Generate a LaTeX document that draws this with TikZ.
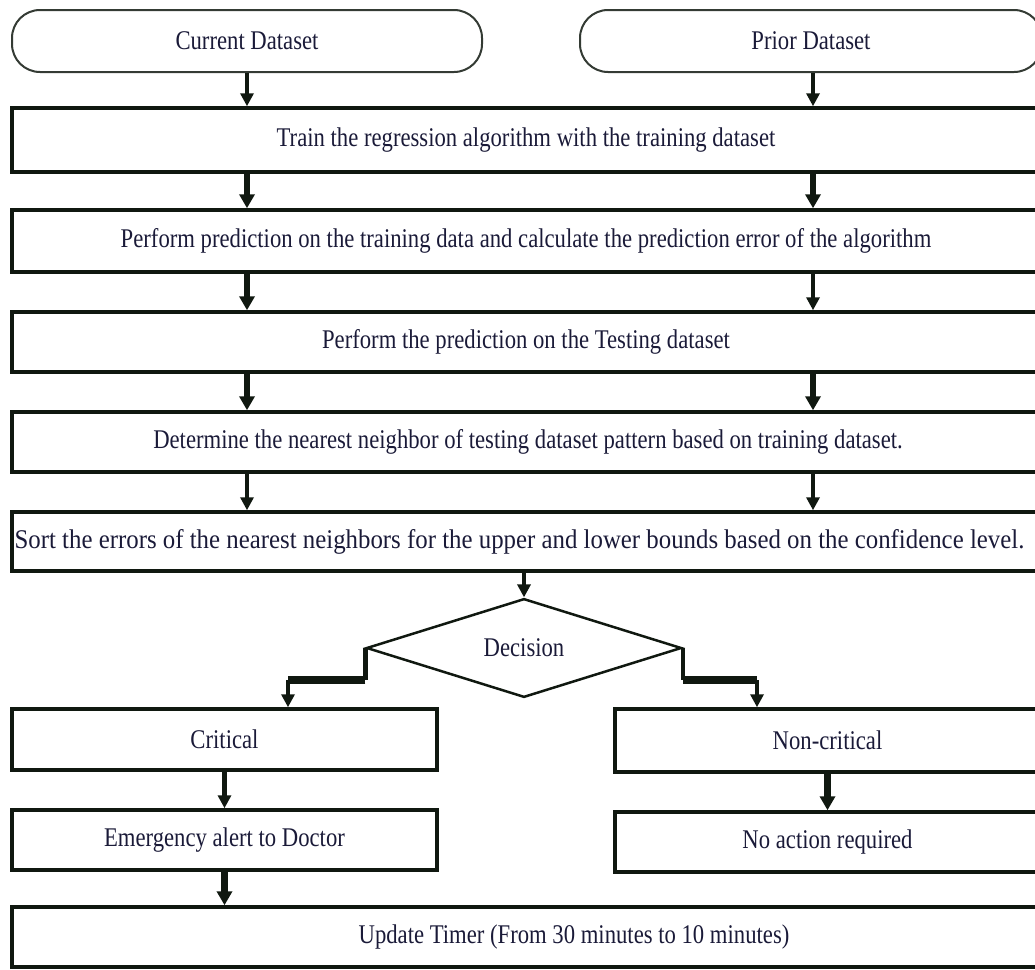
\documentclass[tikz,border=0pt]{standalone}
\usepackage{fontspec}
\setmainfont{Liberation Serif}[FakeStretch=0.84]
\newfontfamily\ancha{Liberation Serif}[FakeStretch=0.92]
\usetikzlibrary{shapes.geometric,arrows.meta}
\definecolor{linea}{HTML}{101810}
\definecolor{texto}{HTML}{1A1A38}

\begin{document}
\begin{tikzpicture}[x=1pt,y=-1pt,
  letra/.style={text=texto, font=\fontsize{27}{30}\selectfont},
  caja/.style={letra, draw=linea, line width=3.5pt, minimum height=61pt, inner sep=0pt},
  terminal/.style={letra, draw=linea!85, line width=2pt, rounded corners=28pt, minimum height=62pt, inner sep=0pt},
  decision/.style={letra, diamond, draw=linea, line width=2.5pt, minimum width=315pt, minimum height=76pt, inner sep=0pt},
  flecha/.style={draw=linea, line width=4.5pt, -{Triangle[length=13pt,width=13pt]}},
  flechagruesa/.style={flecha, line width=6.5pt, -{Triangle[length=14pt,width=15pt]}},
  rama/.style={draw=linea, line width=4.5pt},
  ramagruesa/.style={draw=linea, line width=8pt}]
% El tamano del dibujo es el de la imagen original
\useasboundingbox (0,0) rectangle (1035,969);
\begin{scope}
% Las cajas se salen por la derecha, asi que recortamos
\clip (0,0) rectangle (1035,969);

% Los dos conjuntos de datos de arriba
\node[terminal, minimum width=470pt] (cur) at (247,41) {Current Dataset};
\node[terminal, minimum width=462pt] (pri) at (811,41) {Prior Dataset};

% Los pasos del algoritmo, uno debajo de otro
\node[caja, minimum width=1028pt, minimum height=64pt] (b1) at (526,140) {Train the regression algorithm with the training dataset};
\node[caja, minimum width=1028pt, minimum height=62pt] (b2) at (526,241) {Perform prediction on the training data and calculate the prediction error of the algorithm};
\node[caja, minimum width=1028pt, minimum height=60pt] (b3) at (526,342) {Perform the prediction on the Testing dataset};
\node[caja, minimum width=1028pt, minimum height=60pt] (b4) at (526,442) {\hspace*{4pt}Determine the nearest neighbor of testing dataset pattern based on training dataset.};
\node[caja, minimum width=1028pt, minimum height=59pt, font=\fontsize{27}{30}\ancha] (b5) at (526,541.5) {\hspace*{-13pt}Sort the errors of the nearest neighbors for the upper and lower bounds based on the confidence level.};

% La decision y sus dos salidas
\node[decision] (dec) at (524,648) {Decision};
\node[caja, minimum width=425pt] (crit) at (224.5,739.5) {Critical};
\node[caja, minimum width=425pt, minimum height=63pt] (ncrit) at (827.5,740.5) {Non-critical};
\node[caja, minimum width=425pt, minimum height=60pt] (emerg) at (224.5,840) {Emergency alert to Doctor};
\node[caja, minimum width=425pt, minimum height=60pt] (noact) at (827.5,842) {No action required};
\node[caja, minimum width=1124pt, minimum height=60pt] (upd) at (574,937) {Update Timer (From 30 minutes to 10 minutes)};

% Flechas de las dos columnas
\draw[flecha] (cur) -- (cur |- b1.north);
\draw[flecha] (pri.south -| 813,0) -- (b1.north -| 813,0);
\draw[flechagruesa] (b1.south -| cur) -- (b2.north -| cur);
\draw[flechagruesa] (b1.south -| 813,0) -- (b2.north -| 813,0);
\draw[flechagruesa] (b2.south -| cur) -- (b3.north -| cur);
\draw[flecha] (b2.south -| 813,0) -- (b3.north -| 813,0);
\draw[flechagruesa] (b3.south -| cur) -- (b4.north -| cur);
\draw[flechagruesa] (b3.south -| 813,0) -- (b4.north -| 813,0);
\draw[flecha] (b4.south -| cur) -- (b5.north -| cur);
\draw[flecha] (b4.south -| 813,0) -- (b5.north -| 813,0);
\draw[flecha] (b5.south -| dec) -- (dec.north);

% Ramas escalonadas de la decision
\coordinate (izq) at (dec.west |- 0,680);
\coordinate (izqb) at (288,680);
\draw[rama] (dec.west) -- (izq);
\draw[ramagruesa] (izq) -- (izqb);
\draw[flecha] (izqb) -- (izqb |- crit.north);
\coordinate (der) at (dec.east |- 0,680);
\coordinate (derb) at (757,680);
\draw[rama] (dec.east) -- (der);
\draw[ramagruesa] (der) -- (derb);
\draw[flecha] (derb) -- (derb |- ncrit.north);

% Flechas de abajo
\draw[flecha] (crit) -- (emerg);
\draw[flechagruesa] (ncrit) -- (noact);
\draw[flechagruesa] (emerg) -- (emerg |- upd.north);
\end{scope}
\end{tikzpicture}
\end{document}
